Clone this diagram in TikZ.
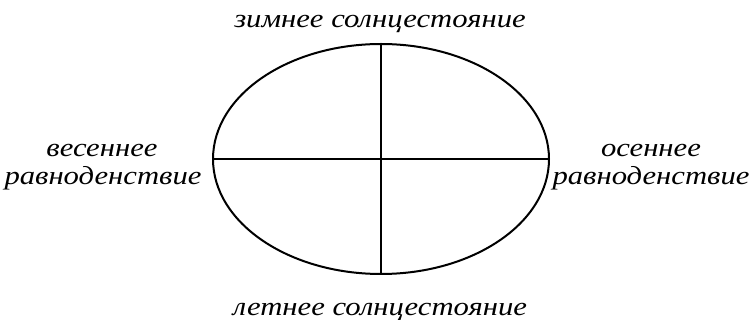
\documentclass[tikz,border=0pt]{standalone}
\usepackage{fontspec}
\setmainfont{Liberation Serif}
\newfontfamily\lblfont[FakeStretch=1.18]{Liberation Serif}
\usetikzlibrary{shapes.geometric}
\begin{document}
\begin{tikzpicture}[x=0.75pt,y=-0.75pt,
  lbl/.style={font=\lblfont\itshape\fontsize{19.5pt}{21pt}\selectfont, inner sep=0pt},
  orbit/.style={draw, ellipse, line width=1.5pt, inner sep=0pt, minimum width=252pt, minimum height=172.5pt}]
\useasboundingbox (0,0) rectangle (750,320);
\node[orbit] (E) at (381,159) {};
\draw[line width=1.5pt] (E.north) -- (E.south);
\draw[line width=1.5pt] (E.west) -- (E.east);
\node[lbl, anchor=base] (top) at (380,28) {зимнее солнцестояние};
\node[lbl, anchor=base] (bot) at (380,316) {летнее солнцестояние};
\node[lbl, anchor=base] (left1) at (102,157) {весеннее};
\node[lbl, anchor=base] (left2) at (103,185) {равноденствие};
\node[lbl, anchor=base] (right1) at (651,157) {осеннее};
\node[lbl, anchor=base] (right2) at (651,185) {равноденствие};
\end{tikzpicture}
\end{document}
